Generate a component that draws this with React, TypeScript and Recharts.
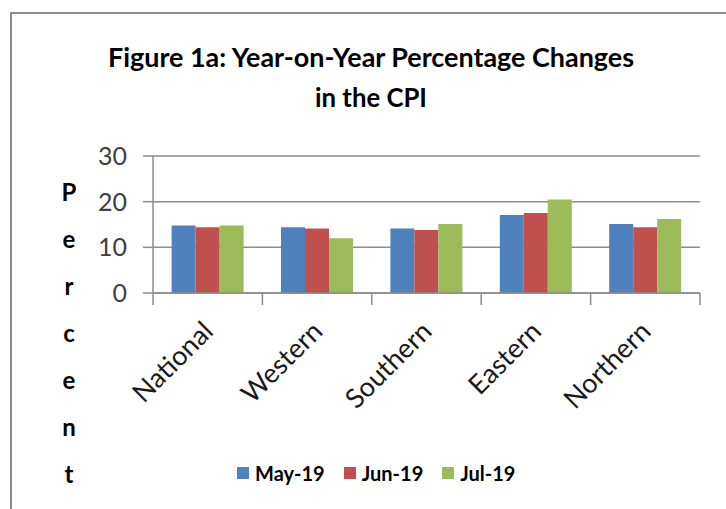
import { BarChart, Bar, XAxis, YAxis, CartesianGrid } from "recharts";

const regions = ["National", "Western", "Southern", "Eastern", "Northern"];
const may19 = [14.8, 14.4, 14.1, 17.1, 15.1];
const jun19 = [14.4, 14.1, 13.8, 17.5, 14.4];
const jul19 = [14.8, 12.0, 15.1, 20.5, 16.2];
const seriesKeys = ["may", "jun", "jul"];
const seriesNames = ["May-19", "Jun-19", "Jul-19"];
const seriesColors = ["#4F81BD", "#C0504D", "#9BBB59"];
const yTicks = [0, 10, 20, 30];
const titleLines = ["Figure 1a: Year-on-Year Percentage Changes", "in the CPI"];
const yAxisTitle = "Percent";

const data = regions.map((region, i) => ({
  region,
  may: may19[i],
  jun: jun19[i],
  jul: jul19[i],
}));

const W = 726;
const H = 509;
const plotLeft = 153;
const plotRight = 700;
const plotTop = 156;
const plotBottom = 293;
const xAxisHeight = 100;
const step = (plotRight - plotLeft) / regions.length;
const gray = "#8c8c8c";
const font = "Lato, 'Open Sans', sans-serif";

function RegionTick({ x, y, payload, index }: any) {
  const tx = x + 7;
  const ty = y + 40;
  return (
    <g>
      <line x1={x - step / 2} y1={y} x2={x - step / 2} y2={y + 12} stroke={gray} strokeWidth={1.5} />
      {index === regions.length - 1 && (
        <line x1={x + step / 2} y1={y} x2={x + step / 2} y2={y + 12} stroke={gray} strokeWidth={1.5} />
      )}
      <text
        x={tx}
        y={ty}
        transform={`rotate(-45, ${tx}, ${ty})`}
        textAnchor="end"
        fontSize={27}
        fontFamily={font}
        fill="#1a1a1a"
      >
        {payload.value}
      </text>
    </g>
  );
}

export default function App() {
  return (
    <div
      style={{
        position: "absolute",
        left: 0,
        top: 0,
        width: W,
        height: H,
        overflow: "hidden",
        background: "#fff",
      }}
    >
      <div
        style={{
          position: "absolute",
          left: 10,
          top: 12,
          width: W + 40,
          height: H + 40,
          border: `2.5px solid ${gray}`,
          boxSizing: "border-box",
        }}
      />
      <BarChart
        width={W}
        height={H}
        data={data}
        margin={{ top: plotTop, right: W - plotRight, left: 0, bottom: H - plotBottom - xAxisHeight }}
        barCategoryGap="17%"
        barGap={0}
        style={{ position: "absolute", left: 0, top: 0 }}
      >
        <CartesianGrid vertical={false} stroke={gray} strokeWidth={1.5} />
        <XAxis
          dataKey="region"
          height={xAxisHeight}
          tickSize={0}
          tickMargin={0}
          tickLine={false}
          axisLine={{ stroke: gray, strokeWidth: 1.5 }}
          tick={<RegionTick />}
          interval={0}
        />
        <YAxis
          width={plotLeft}
          domain={[0, 30]}
          ticks={yTicks}
          tickSize={10}
          tickMargin={16}
          axisLine={{ stroke: gray, strokeWidth: 1.5 }}
          tickLine={{ stroke: gray, strokeWidth: 1.5 }}
          tick={{ fontSize: 25, fontFamily: font, fill: "#404040" }}
        />
        {seriesKeys.map((k, i) => (
          <Bar key={k} dataKey={k} name={seriesNames[i]} fill={seriesColors[i]} isAnimationActive={false} />
        ))}
      </BarChart>
      <svg width={W} height={H} style={{ position: "absolute", left: 0, top: 0, pointerEvents: "none" }}>
        <text
          x={371}
          y={67}
          textAnchor="middle"
          fontSize={26}
          fontWeight="bold"
          fontFamily={font}
          fill="#000"
          textLength={526}
          lengthAdjust="spacingAndGlyphs"
        >
          {titleLines[0]}
        </text>
        <text
          x={371}
          y={107}
          textAnchor="middle"
          fontSize={26}
          fontWeight="bold"
          fontFamily={font}
          fill="#000"
          textLength={112}
          lengthAdjust="spacingAndGlyphs"
        >
          {titleLines[1]}
        </text>
        <text fontSize={24} fontWeight="bold" fontFamily={font} fill="#000" textAnchor="middle">
          {yAxisTitle.split("").map((c, i) => (
            <tspan key={i} x={69} y={201 + i * 47}>
              {c}
            </tspan>
          ))}
        </text>
      </svg>
      <div
        style={{
          position: "absolute",
          left: 237,
          top: 461,
          display: "flex",
          alignItems: "center",
          fontFamily: font,
          fontWeight: "bold",
          fontSize: 20,
          color: "#000",
        }}
      >
        {seriesNames.map((name, i) => (
          <div key={name} style={{ display: "flex", alignItems: "center", marginRight: 19 }}>
            <span
              style={{
                display: "inline-block",
                width: 12,
                height: 12,
                background: seriesColors[i],
                marginRight: 6,
              }}
            />
            <span>{name}</span>
          </div>
        ))}
      </div>
    </div>
  );
}
